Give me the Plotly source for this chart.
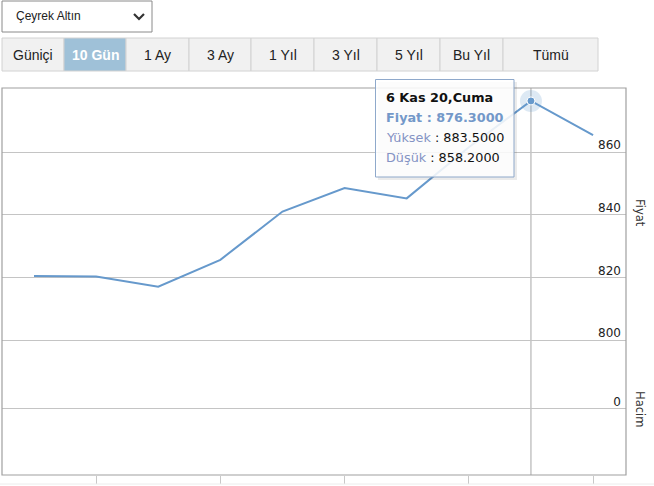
import plotly.graph_objects as go

# ---- data ----
dates = ["26 Eki", "27 Eki", "28 Eki", "30 Eki", "2 Kas", "3 Kas", "4 Kas", "5 Kas", "6 Kas", "9 Kas"]
prices = [820.4, 820.3, 817.0, 825.6, 841.0, 848.5, 845.2, 861.5, 876.3, 865.4]
volumes = [0, 0, 0, 0, 0, 0, 0, 0, 0, 0]
price_ticks = [800, 820, 840, 860]
volume_ticks = [0]
buttons = ["Güniçi", "10 Gün", "1 Ay", "3 Ay", "1 Yıl", "3 Yıl", "5 Yıl", "Bu Yıl", "Tümü"]
button_edges = [2, 64, 126, 189, 251, 314, 377, 440, 503, 598]
active_button = "10 Gün"
hover_index = 8
tooltip_title = "6 Kas 20,Cuma"
tooltip_high = 883.5
tooltip_low = 858.2

W, H = 654, 486
def px(x):
    return x / W
def py(y):
    return 1 - y / H

LINE = "#6699cc"
FONT = "DejaVu Sans"

fig = go.Figure()
fig.add_trace(go.Scatter(x=dates, y=prices, mode="lines", line=dict(color=LINE, width=2),
                         xaxis="x", yaxis="y", hoverinfo="skip", showlegend=False))
fig.add_trace(go.Bar(x=dates, y=volumes, marker=dict(color=LINE, line=dict(width=0)),
                     xaxis="x", yaxis="y2", hoverinfo="skip", showlegend=False))
# hover halo + marker
fig.add_trace(go.Scatter(x=[dates[hover_index]], y=[prices[hover_index]], mode="markers",
                         marker=dict(size=22, color="rgba(102,153,204,0.22)"),
                         xaxis="x", yaxis="y", hoverinfo="skip", showlegend=False))
fig.add_trace(go.Scatter(x=[dates[hover_index]], y=[prices[hover_index]], mode="markers",
                         marker=dict(size=8, color=LINE, line=dict(color="white", width=1)),
                         xaxis="x", yaxis="y", hoverinfo="skip", showlegend=False))

shapes = []
annotations = []

# dropdown
shapes.append(dict(type="rect", xref="paper", yref="paper", x0=px(2), x1=px(152), y0=py(32), y1=py(1),
                   line=dict(color="#8a8a8a", width=1), fillcolor="white", layer="below"))
annotations.append(dict(text="Çeyrek Altın", xref="paper", yref="paper", x=px(14), y=py(16),
                        xanchor="left", yanchor="middle", showarrow=False,
                        font=dict(family="Liberation Sans", size=12, color="#222")))
shapes.append(dict(type="path", xref="paper", yref="paper",
                   path=f"M {px(134)} {py(14)} L {px(139)} {py(19)} L {px(144)} {py(14)}",
                   line=dict(color="#333", width=2.2)))

# buttons
for i, b in enumerate(buttons):
    x0, x1 = button_edges[i], button_edges[i + 1]
    active = b == active_button
    shapes.append(dict(type="rect", xref="paper", yref="paper", x0=px(x0), x1=px(x1), y0=py(71), y1=py(38),
                       line=dict(color="#d2d2d2", width=1),
                       fillcolor="#9fc1d8" if active else "#f1f1f1", layer="below"))
    annotations.append(dict(text=f"<b>{b}</b>" if active else b, xref="paper", yref="paper",
                            x=px((x0 + x1) / 2), y=py(55), xanchor="center", yanchor="middle",
                            showarrow=False,
                            font=dict(family="Liberation Sans", size=14,
                                      color="white" if active else "#222")))

# plot frame
shapes.append(dict(type="rect", xref="paper", yref="paper", x0=px(2), x1=px(626), y0=py(475), y1=py(88),
                   line=dict(color="#a0a0a0", width=1.2), layer="above"))
# faint line under chart
shapes.append(dict(type="line", xref="paper", yref="paper", x0=0, x1=1, y0=py(484), y1=py(484),
                   line=dict(color="#ececec", width=1)))
# crosshair
shapes.append(dict(type="line", xref="x", yref="paper", x0=dates[hover_index], x1=dates[hover_index],
                   y0=py(475), y1=py(88), line=dict(color="#a8a8a8", width=1), layer="below"))

# tooltip box
shapes.append(dict(type="rect", xref="paper", yref="paper", x0=px(378), x1=px(517), y0=py(180), y1=py(82),
                   line=dict(width=0), fillcolor="rgba(0,0,0,0.08)"))
shapes.append(dict(type="rect", xref="paper", yref="paper", x0=px(375.5), x1=px(514), y0=py(177), y1=py(79.5),
                   line=dict(color="#8fa9cb", width=1), fillcolor="rgba(255,255,255,0.86)"))
tip_lines = [
    f"<b>{tooltip_title}</b>",
    f"<b><span style='color:#7398c9'>Fiyat : {prices[hover_index]:.4f}</span></b>",
    f"<span style='color:#8493c4'>Yüksek</span> : {tooltip_high:.4f}",
    f"<span style='color:#8493c4'>Düşük</span> : {tooltip_low:.4f}",
]
for k, t in enumerate(tip_lines):
    annotations.append(dict(text=t, xref="paper", yref="paper", x=px(384), y=py(97.5 + 20 * k),
                            xanchor="left", yanchor="middle", showarrow=False,
                            font=dict(family=FONT, size=12.8, color="#111")))

# axis titles
annotations.append(dict(text="Fiyat", xref="paper", yref="paper", x=px(640), y=py(213), textangle=90,
                        xanchor="center", yanchor="middle", showarrow=False,
                        font=dict(family=FONT, size=11.5, color="#333")))
annotations.append(dict(text="Hacim", xref="paper", yref="paper", x=px(640), y=py(409), textangle=90,
                        xanchor="center", yanchor="middle", showarrow=False,
                        font=dict(family=FONT, size=11.5, color="#333")))

fig.update_layout(
    width=W, height=H, margin=dict(l=0, r=0, t=0, b=0),
    paper_bgcolor="white", plot_bgcolor="white",
    shapes=shapes, annotations=annotations, bargap=0.4,
    xaxis=dict(domain=[px(2), px(626)], type="category", range=[-0.515, 9.53], anchor="y2",
               showgrid=False, zeroline=False, showline=False,
               tickmode="array", tickvals=[dates[i] for i in range(1, 10, 2)],
               ticks="outside", ticklen=8, tickcolor="#c8c8c8", showticklabels=False, fixedrange=True),
    yaxis=dict(domain=[py(372), py(88)], range=[789.79, 880.43], side="right", anchor="x",
               tickvals=price_ticks, showgrid=True, gridcolor="#c4c4c4", gridwidth=1,
               zeroline=False, showline=False, ticks="",
               ticklabelposition="inside", ticklabelshift=-7, ticklabelstandoff=2,
               tickfont=dict(family=FONT, size=12, color="#222")),
    yaxis2=dict(domain=[py(475), py(372)], range=[-66.3, 36.7], side="right", anchor="x",
                tickvals=volume_ticks, showgrid=True, gridcolor="#c4c4c4", gridwidth=1,
                zeroline=False, showline=False, ticks="",
                ticklabelposition="inside", ticklabelshift=-7, ticklabelstandoff=2,
                tickfont=dict(family=FONT, size=12, color="#222")),
)

fig.write_html("out.html", config={"displayModeBar": False},
               post_script="document.body.style.margin='0';document.body.style.overflow='hidden';")
